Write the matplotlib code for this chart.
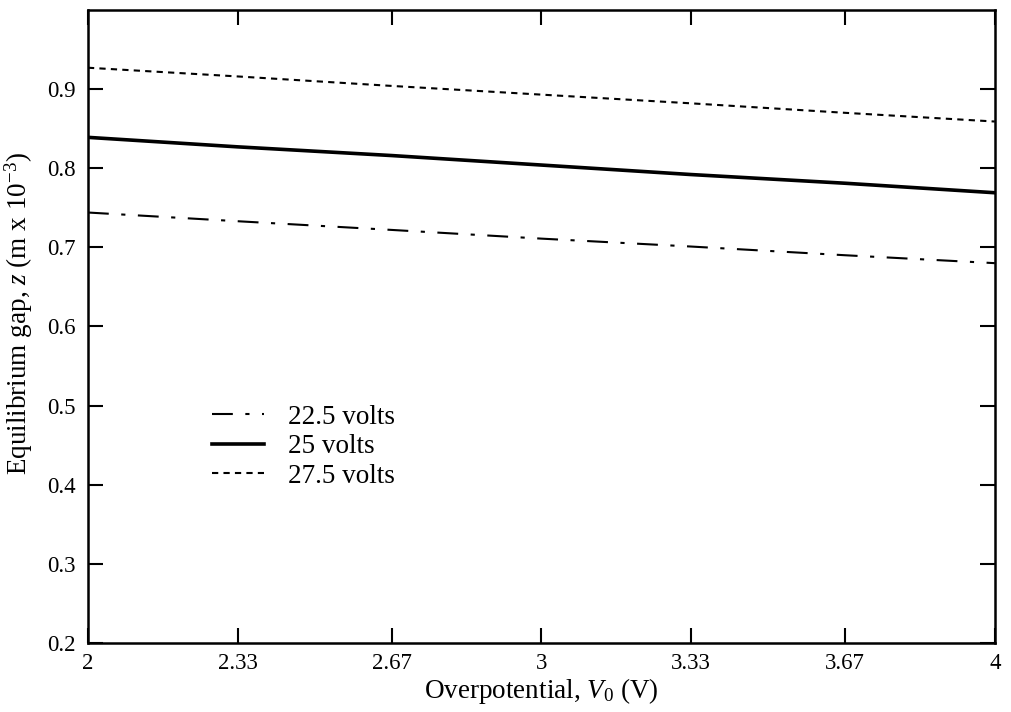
import matplotlib
matplotlib.use("Agg")
import matplotlib.pyplot as plt

# =========================
# DATA
# =========================
overpotential = [2.0, 2.33, 2.67, 3.0, 3.33, 3.67, 4.0]
gap_22_5 = [0.744, 0.733, 0.722, 0.711, 0.701, 0.690, 0.680]
gap_25 = [0.839, 0.827, 0.816, 0.804, 0.792, 0.781, 0.769]
gap_27_5 = [0.927, 0.916, 0.904, 0.893, 0.882, 0.870, 0.859]
series_labels = ["22.5 volts", "25 volts", "27.5 volts"]

x_ticks = [2, 2.33, 2.67, 3, 3.33, 3.67, 4]
x_tick_labels = ["2", "2.33", "2.67", "3", "3.33", "3.67", "4"]
y_ticks = [0.2, 0.3, 0.4, 0.5, 0.6, 0.7, 0.8, 0.9]
y_tick_labels = ["0.2", "0.3", "0.4", "0.5", "0.6", "0.7", "0.8", "0.9"]

# =========================
# STYLE
# =========================
plt.rcParams["font.family"] = ["Liberation Serif", "DejaVu Serif"]
plt.rcParams["mathtext.fontset"] = "custom"
plt.rcParams["mathtext.rm"] = "Liberation Serif"
plt.rcParams["mathtext.it"] = "Liberation Serif:italic"
plt.rcParams["font.size"] = 16

fig = plt.figure(figsize=(10.11, 7.12), dpi=100)
ax = fig.add_axes([0.087, 0.097, 0.897, 0.889])

ax.plot(overpotential, gap_22_5, color="black", lw=1.5,
        linestyle=(0, (10, 6, 2, 6)), label=series_labels[0])
ax.plot(overpotential, gap_25, color="black", lw=2.6,
        linestyle="-", label=series_labels[1])
ax.plot(overpotential, gap_27_5, color="black", lw=1.5,
        linestyle=(0, (3, 2.5)), label=series_labels[2])

ax.set_xlim(2, 4)
ax.set_ylim(0.2, 1.0)
ax.set_xticks(x_ticks)
ax.set_xticklabels(x_tick_labels)
ax.set_yticks(y_ticks)
ax.set_yticklabels(y_tick_labels)

ax.tick_params(axis="both", direction="in", length=11, width=1.5,
               top=True, right=True, labelsize=16.5)
ax.tick_params(axis="y", pad=9)
ax.tick_params(axis="x", pad=7)
for s in ax.spines.values():
    s.set_linewidth(1.8)

ax.set_xlabel("Overpotential, $V_{\\mathit{0}}$ (V)", fontsize=19.5, labelpad=2)
ax.set_ylabel("Equilibrium gap, $z$ (m x 10$^{\\mathrm{-3}}$)", fontsize=19.5)
ax.yaxis.set_label_coords(-0.058, 0.52)

ax.legend(loc="upper left", bbox_to_anchor=(0.137, 0.376), frameon=False,
          fontsize=19.5, handlelength=1.9, handletextpad=0.9,
          labelspacing=0.16, borderpad=0, borderaxespad=0)

fig.savefig("out.png", dpi=100)
